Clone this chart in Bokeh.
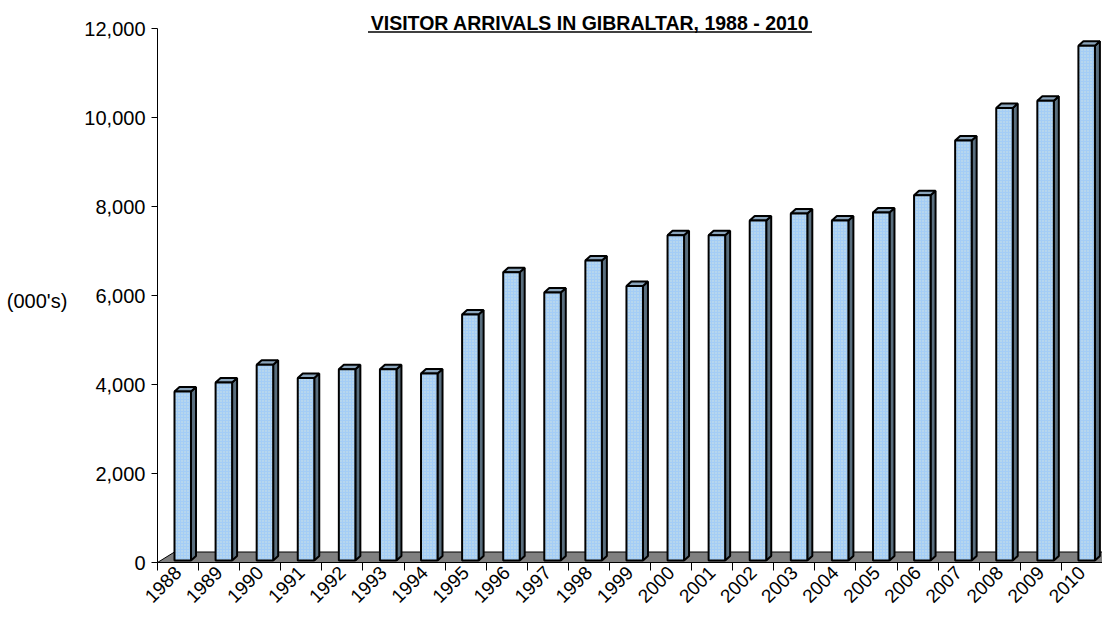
import math
from bokeh.plotting import figure
from bokeh.models import FixedTicker, NumeralTickFormatter, CustomJSTickFormatter, Range1d, ColumnDataSource
from bokeh.core.properties import value
from bokeh.embed import file_html
from bokeh.resources import INLINE

# ---- data ----
years = [str(y) for y in range(1988, 2011)]
visitors = [3800, 4000, 4400, 4100, 4300, 4300, 4200, 5530, 6480, 6020, 6740, 6170,
            7310, 7310, 7640, 7800, 7640, 7820, 8210, 9440, 10170, 10330, 11570]
y_ticks = [0, 2000, 4000, 6000, 8000, 10000, 12000]
title_text = "VISITOR ARRIVALS IN GIBRALTAR, 1988 - 2010"
y_label = "(000's)"

# ---- layout ----
W, H = 1102, 614
LEFT, BOTTOM = 157, 52
FW = W - LEFT
FH = H - BOTTOM
n = len(years)
px_cat = FW / n
TOP_PX = 28                      # canvas y of the 12,000 tick
AX_PX = FH - TOP_PX              # pixels spanned by 0..12000
y_end = 12000 * FH / AX_PX
sx = 1.0 / px_cat                # data x per pixel
sy = 12000 / AX_PX               # data y per pixel

def cy(canvas_y):
    return (FH - canvas_y) * sy

def cx(canvas_x):
    return (canvas_x - LEFT) * sx

FONT = "Liberation Sans"

p = figure(width=W, height=H, output_backend="svg", toolbar_location=None,
           x_range=Range1d(0, n), y_range=Range1d(0, y_end),
           min_border_left=LEFT, min_border_right=0, min_border_top=0,
           min_border_bottom=BOTTOM)
p.outline_line_color = None
p.xgrid.visible = False
p.ygrid.visible = False
p.background_fill_color = "white"
p.border_fill_color = "white"

# floor
fdx, fdy = 17 * sx, 10.5 * sy
p.patch(x=[0, n, n + fdx, fdx], y=[0, 0, fdy, fdy],
        fill_color="#808080", line_color="black", line_width=1)

# 3D bars
off, bw = 17.0 * sx, 16.5 * sx
ddx, ddy = 5 * sx, 4.5 * sy
base = 2 * sy
lefts = [i + off for i in range(n)]
rights = [l + bw for l in lefts]
tops = [base + v for v in visitors]

front = ColumnDataSource(dict(left=lefts, right=rights, top=tops, bottom=[base] * n))
side_xs = [[r, r + ddx, r + ddx, r] for r in rights]
side_ys = [[base, base + ddy, t + ddy, t] for t in tops]
top_xs = [[l, r, r + ddx, l + ddx] for l, r in zip(lefts, rights)]
top_ys = [[t, t, t + ddy, t + ddy] for t in tops]

p.patches(xs=side_xs, ys=side_ys, fill_color="#596E7E", line_color="black", line_width=2)
p.patches(xs=top_xs, ys=top_ys, fill_color="#8BA5BC", line_color="black", line_width=2)
p.quad(left="left", right="right", top="top", bottom="bottom", source=front,
       fill_color="#A4CDF6", hatch_pattern="dot", hatch_color="#F4F6D2",
       hatch_scale=3, hatch_weight=1, hatch_alpha=0.55,
       line_color="black", line_width=2)

# title (underlined)
tx = cx(589.5)
p.text(x=[tx], y=[cy(22.7)], text=[title_text], text_font=value(FONT),
       text_font_style="bold", text_font_size="19.5px", text_align="center",
       text_baseline="middle", text_color="black")
half = 222 * sx
p.segment(x0=[tx - half], x1=[tx + half], y0=[cy(31.5)], y1=[cy(31.5)],
          line_color="black", line_width=1.5)

# x axis
xa = p.xaxis[0]
xa.ticker = FixedTicker(ticks=[i + 0.5 for i in range(n)], minor_ticks=list(range(n + 1)))
xa.formatter = CustomJSTickFormatter(args=dict(years=years), code="return years[Math.floor(tick)];")
xa.major_label_orientation = math.pi / 4
xa.major_tick_line_color = None
xa.major_tick_out = 0
xa.major_tick_in = 0
xa.minor_tick_line_color = "black"
xa.minor_tick_out = 8
xa.minor_tick_in = 0
xa.axis_line_color = "black"
xa.major_label_standoff = -1
xa.major_label_text_font = FONT
xa.major_label_text_font_size = "19px"
xa.major_label_text_color = "black"

# y axis
ya = p.yaxis[0]
ya.ticker = FixedTicker(ticks=y_ticks, minor_ticks=[])
ya.formatter = NumeralTickFormatter(format="0,0")
ya.bounds = (0, 12000)
ya.major_tick_out = 6
ya.major_tick_in = 0
ya.minor_tick_line_color = None
ya.axis_line_color = "black"
ya.major_tick_line_color = "black"
ya.major_label_standoff = 6
ya.major_label_text_font = FONT
ya.major_label_text_font_size = "20px"
ya.major_label_text_color = "black"
# unit label, written horizontally; the blank first line lowers it to the 6,000 level
ya.axis_label = "\n" + y_label
ya.axis_label_orientation = "horizontal"
ya.axis_label_standoff = 14
ya.axis_label_text_font = FONT
ya.axis_label_text_font_size = "20px"
ya.axis_label_text_font_style = "normal"
ya.axis_label_text_line_height = 1.8
ya.axis_label_text_color = "black"

open("out.html", "w").write(file_html(p, INLINE))
